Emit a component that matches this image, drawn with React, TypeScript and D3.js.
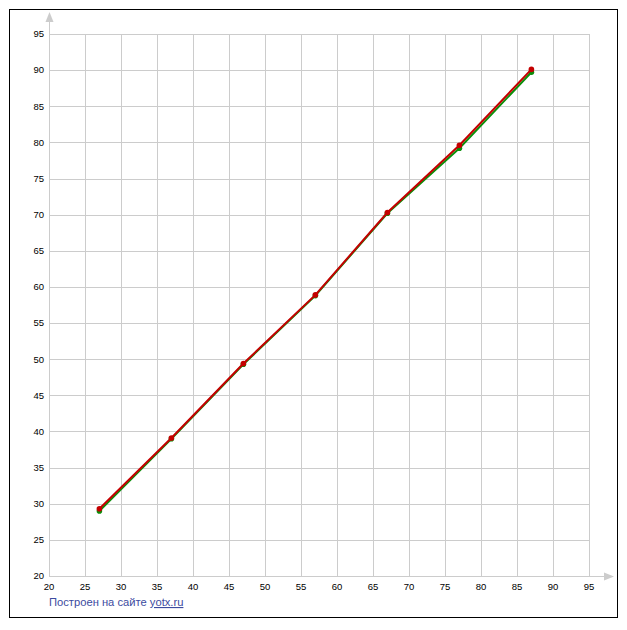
import React from 'react'
import * as d3 from 'd3'

const xValues = [27, 37, 47, 57, 67, 77, 87]
const greenValues = [29.0, 39.0, 49.3, 58.8, 70.2, 79.2, 89.7]
const redValues = [29.3, 39.1, 49.4, 58.9, 70.3, 79.6, 90.1]
const tickValues = [20, 25, 30, 35, 40, 45, 50, 55, 60, 65, 70, 75, 80, 85, 90, 95]

const W = 627
const H = 630
const left = 49
const right = 589
const top = 34
const bottom = 576

const App = () => {
  const x = d3.scaleLinear().domain([20, 95]).range([left, right])
  const y = d3.scaleLinear().domain([20, 95]).range([bottom, top])
  const line = d3
    .line<number>()
    .x((_, i) => x(xValues[i]))
    .y((d) => y(d))

  const series = [
    { values: greenValues, color: '#0a8f0a' },
    { values: redValues, color: '#c40000' }
  ]

  return (
    <svg
      width={W}
      height={H}
      style={{ position: 'absolute', left: 0, top: 0, background: '#fff' }}
      fontFamily="Tahoma, 'Liberation Sans', sans-serif"
    >
      <rect x={9.5} y={9.5} width={608} height={608} fill="#fff" stroke="#000" strokeWidth={1} />
      <g stroke="#cccccc" strokeWidth={1} shapeRendering="crispEdges">
        {tickValues.map((t) => (
          <line key={'v' + t} x1={Math.round(x(t)) + 0.5} x2={Math.round(x(t)) + 0.5} y1={top} y2={bottom} />
        ))}
        {tickValues.map((t) => (
          <line key={'h' + t} x1={left} x2={right} y1={Math.round(y(t)) + 0.5} y2={Math.round(y(t)) + 0.5} />
        ))}
        <line x1={left + 0.5} x2={left + 0.5} y1={18} y2={bottom} />
        <line x1={left} x2={608} y1={bottom + 0.5} y2={bottom + 0.5} />
      </g>
      <path d={`M${left + 0.5},12 L${left - 3.5},22 L${left + 4.5},22 Z`} fill="#cccccc" />
      <path d={`M614,${bottom + 0.5} L604,${bottom - 3.5} L604,${bottom + 4.5} Z`} fill="#cccccc" />
      <g fontSize={9.5} fill="#000">
        {tickValues.map((t) => (
          <text key={'yl' + t} x={left - 5} y={y(t)} dy="0.35em" textAnchor="end">
            {t}
          </text>
        ))}
        {tickValues.map((t) => (
          <text key={'xl' + t} x={x(t)} y={bottom + 14} textAnchor="middle">
            {t}
          </text>
        ))}
      </g>
      {series.map((s, k) => (
        <g key={k}>
          <path d={line(s.values) || ''} fill="none" stroke={s.color} strokeWidth={2} />
          {s.values.map((v, i) => (
            <circle key={i} cx={x(xValues[i])} cy={y(v)} r={2.8} fill={s.color} />
          ))}
        </g>
      ))}
      <text x={left} y={606} fontSize={11.2} fill="#3c4ba0">
        Построен на сайте <tspan textDecoration="underline">yotx.ru</tspan>
      </text>
    </svg>
  )
}

export default App
